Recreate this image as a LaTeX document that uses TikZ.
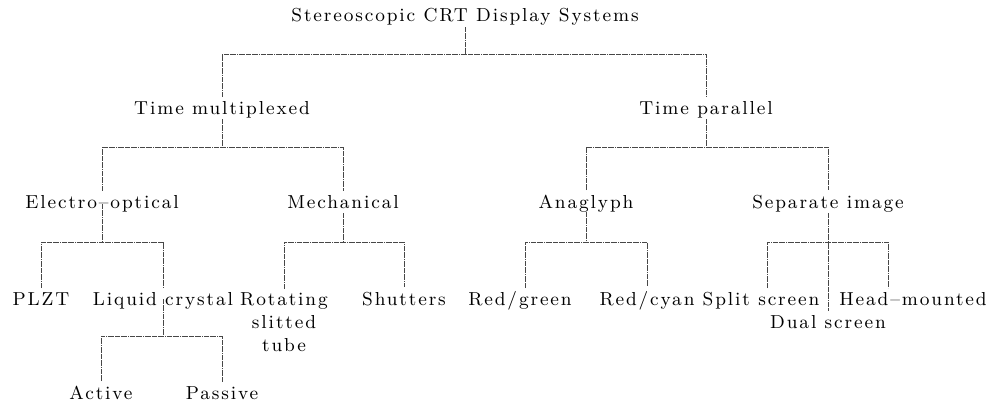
\documentclass[tikz,border=0pt]{standalone}
\usepackage{fontspec}
\newfontfamily\lmls{Latin Modern Roman}[LetterSpace=10]
\newcommand\lbfont{\lmls\fontsize{9.4}{11.5}\selectfont}
\begin{document}
\begin{tikzpicture}[x=0.5pt,y=-0.5pt,
  link/.style={draw=black!72,line width=0.45pt,dash pattern=on 2.5pt off 0.4pt on 0.4pt off 0.4pt},
  lbl/.style={anchor=base,inner sep=0pt,font=\lbfont,text=black}]
\useasboundingbox (0,0) rectangle (989,404);
% labels
\node[lbl] (root) at (465,21) {Stereoscopic CRT Display Systems};
\node[lbl] (tm) at (222,114) {Time multiplexed};
\node[lbl] (tp) at (706,114) {Time parallel};
\node[lbl] (eo) at (102,208) {Electro\textendash optical};
\node[lbl] (me) at (343,208) {Mechanical};
\node[lbl] (an) at (586,208) {Anaglyph};
\node[lbl] (si) at (828,208) {Separate image};
\node[lbl] (plzt) at (41,305) {PLZT};
\node[lbl] (lc) at (163,305) {Liquid crystal};
\node[lbl,anchor=north,align=center] (rot) at (284,292.5) {Rotating\\slitted\\tube};
\node[lbl] (sh) at (404,305) {Shutters};
\node[lbl] (rg) at (520,305) {Red/green};
\node[lbl] (rc) at (647,305) {Red/cyan};
\node[lbl] (ss) at (761,305) {Split screen};
\node[lbl] (ds) at (828,328) {Dual screen};
\node[lbl] (hm) at (913,305) {Head\textendash mounted};
\node[lbl] (ac) at (101,399) {Active};
\node[lbl] (pa) at (222,399) {Passive};
% drop-line ends that are not centred on their labels
\coordinate (rgT) at (525,288);
\coordinate (ssT) at (767,288);
\coordinate (hmT) at (888,288);
% connectors
\draw[link] ([yshift=-3pt]root.base) -- (root.base |- 0,54) coordinate (rootJ);
\draw[link] ([yshift=2pt]tm.north) |- (rootJ) -| ([yshift=2pt]tp.north);
\draw[link] ([yshift=-2.5pt]tm.base) -- (tm.base |- 0,147) coordinate (tmJ);
\draw[link] ([yshift=2pt]eo.north) |- (tmJ) -| ([yshift=2pt]me.north);
\draw[link] ([yshift=-2.5pt]tp.base) -- (tp.base |- 0,147) coordinate (tpJ);
\draw[link] ([yshift=2pt]an.north) |- (tpJ) -| ([yshift=2pt]si.north);
\draw[link] ([yshift=2pt]eo.base) -- (eo.base |- 0,242) coordinate (eoJ);
\draw[link] ([yshift=2pt]plzt.north) |- (eoJ) -| ([yshift=2pt]lc.north);
\draw[link] ([yshift=-2.5pt]me.base) -- (me.base |- 0,242) coordinate (meJ);
\draw[link] ([yshift=2pt]rot.north) |- (meJ) -| ([yshift=2pt]sh.north);
\draw[link] ([yshift=-2pt]an.base) -- (an.base |- 0,242) coordinate (anJ);
\draw[link] (rgT) |- (anJ) -| ([yshift=2pt]rc.north);
\draw[link] ([yshift=-2.5pt]si.base) -- ([yshift=2pt]ds.north);
\draw[link] (ssT) |- (si.base |- 0,242) -| (hmT);
\draw[link] ([yshift=3pt]lc.base) -- (lc.base |- 0,336) coordinate (lcJ);
\draw[link] ([yshift=2pt]ac.north) |- (lcJ) -| ([yshift=2pt]pa.north);
\end{tikzpicture}
\end{document}
